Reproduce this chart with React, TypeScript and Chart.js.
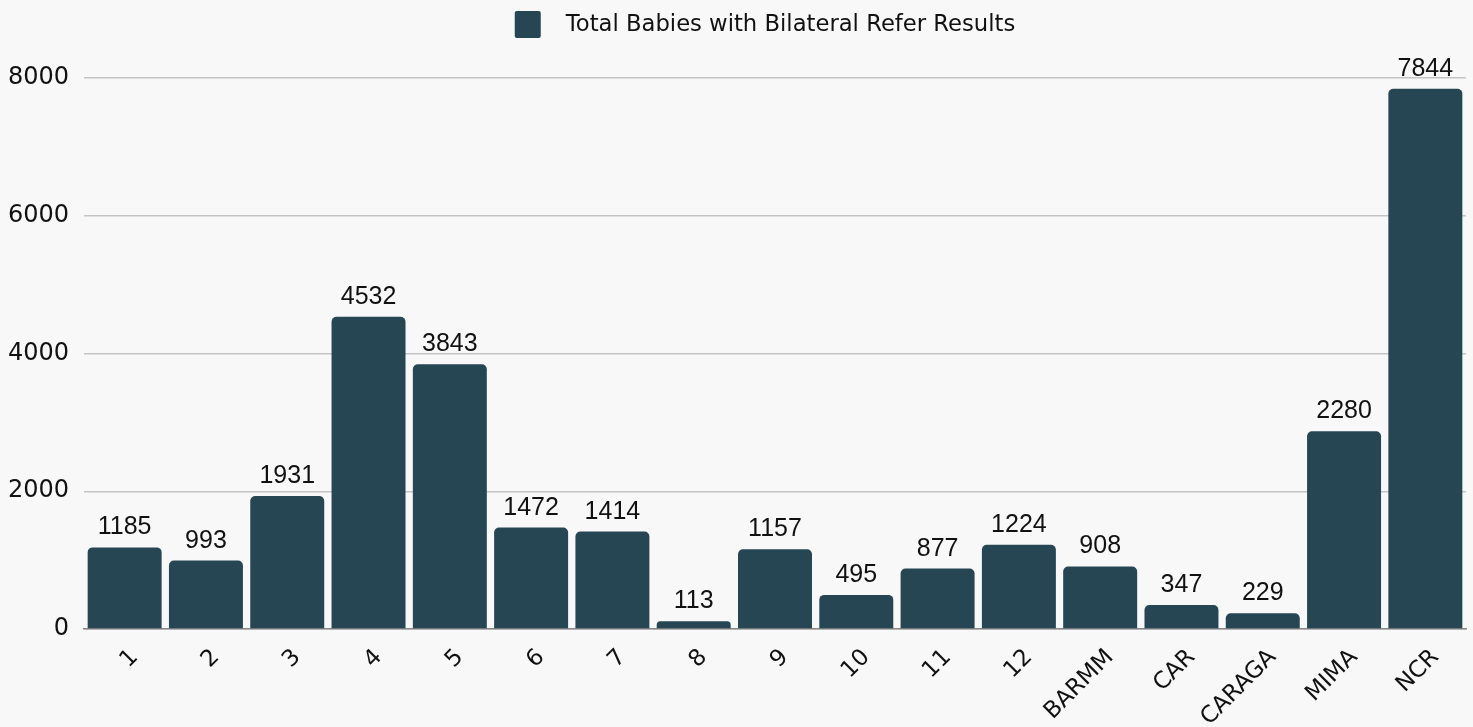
import React, { useEffect, useRef } from "react";
import { Chart, registerables } from "chart.js";

Chart.register(...registerables);

const categories = ["1", "2", "3", "4", "5", "6", "7", "8", "9", "10", "11", "12", "BARMM", "CAR", "CARAGA", "MIMA", "NCR"];
const barValues = [1185, 993, 1931, 4532, 3843, 1472, 1414, 113, 1157, 495, 877, 1224, 908, 347, 229, 2870, 7844];
const valueLabels = ["1185", "993", "1931", "4532", "3843", "1472", "1414", "113", "1157", "495", "877", "1224", "908", "347", "229", "2280", "7844"];
const yTicks = [0, 2000, 4000, 6000, 8000];
const seriesName = "Total Babies with Bilateral Refer Results";

const BAR_COLOR = "#264653";
const TICK_FONT = "'DejaVu Sans', sans-serif";

const valueLabelPlugin = {
  id: "valueLabels",
  afterDatasetsDraw(chart: any) {
    const ctx = chart.ctx;
    const meta = chart.getDatasetMeta(0);
    ctx.save();
    ctx.font = "25px 'Liberation Sans', Arial, sans-serif";
    ctx.fillStyle = "#111";
    ctx.textAlign = "center";
    ctx.textBaseline = "alphabetic";
    meta.data.forEach((bar: any, i: number) => {
      ctx.fillText(valueLabels[i], bar.x, bar.y - 13);
    });
    ctx.restore();
  },
};

const legendPlugin = {
  id: "customLegend",
  afterDraw(chart: any) {
    const ctx = chart.ctx;
    const area = chart.chartArea;
    ctx.save();
    ctx.font = "22.7px 'DejaVu Sans', sans-serif";
    const boxW = 26;
    const boxH = 27;
    const gap = 25;
    const textW = ctx.measureText(seriesName).width;
    const total = boxW + gap + textW;
    const cx = (area.left + area.right) / 2 - 10;
    const x0 = cx - total / 2;
    const yc = 24.5;
    ctx.fillStyle = BAR_COLOR;
    ctx.beginPath();
    (ctx as any).roundRect(x0, yc - boxH / 2, boxW, boxH, 2);
    ctx.fill();
    ctx.fillStyle = "#111";
    ctx.textAlign = "left";
    ctx.textBaseline = "middle";
    ctx.fillText(seriesName, x0 + boxW + gap, yc + 1);
    ctx.restore();
  },
};

export default function App() {
  const ref = useRef<HTMLCanvasElement>(null);
  useEffect(() => {
    document.body.style.margin = "0";
    document.body.style.background = "#f8f8f8";
    const chart = new Chart(ref.current!, {
      type: "bar",
      data: {
        labels: categories,
        datasets: [
          {
            label: seriesName,
            data: barValues,
            backgroundColor: BAR_COLOR,
            borderRadius: { topLeft: 5, topRight: 5, bottomLeft: 0, bottomRight: 0 },
            borderSkipped: "bottom",
            barPercentage: 0.91,
            categoryPercentage: 1.0,
          },
        ],
      },
      options: {
        animation: false,
        responsive: false,
        maintainAspectRatio: false,
        layout: { padding: { left: 8, right: 7, top: 78, bottom: 0 } },
        plugins: {
          legend: { display: false },
          tooltip: { enabled: false },
        },
        scales: {
          x: {
            grid: { display: false, drawTicks: false },
            border: { display: true, color: "#888", width: 1.5 },
            afterFit(axis: any) {
              axis.height = 98;
            },
            ticks: {
              font: { family: TICK_FONT, size: 23 },
              color: "#111",
              maxRotation: 45,
              minRotation: 45,
              padding: 15,
              labelOffset: 10,
            },
          },
          y: {
            min: 0,
            max: 8000,
            afterBuildTicks(axis: any) {
              axis.ticks = yTicks.map((v) => ({ value: v }));
            },
            afterFit(axis: any) {
              axis.width = 76;
            },
            grid: { color: "#c4c4c4", lineWidth: 1.5, drawTicks: false },
            border: { display: false },
            ticks: {
              font: { family: TICK_FONT, size: 24 },
              color: "#111",
              padding: 15,
              callback: (v: any) => String(v),
            },
          },
        },
      },
      plugins: [valueLabelPlugin, legendPlugin],
    });
    return () => chart.destroy();
  }, []);
  return (
    <div style={{ width: 1473, height: 727, background: "#f8f8f8" }}>
      <canvas ref={ref} width={1473} height={727} style={{ display: "block" }} />
    </div>
  );
}
